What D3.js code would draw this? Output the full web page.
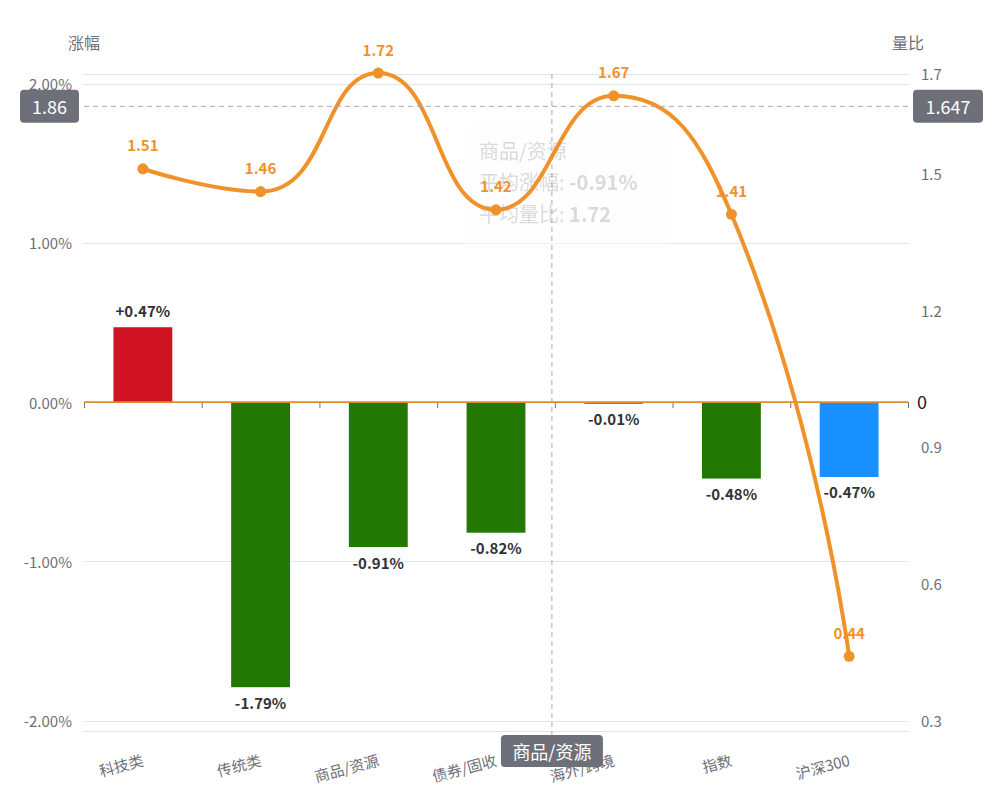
<!DOCTYPE html>
<html>
<head>
<meta charset="utf-8">
<script src="https://cdn.jsdelivr.net/npm/d3@7"></script>
<style>
  html, body { margin: 0; padding: 0; background: #fff; }
  svg { display: block; font-family: "Noto Sans CJK SC", "Noto Sans", sans-serif; }
</style>
</head>
<body>
<svg id="chart" width="1004" height="811"></svg>
<script>
// ---------- data ----------
const categories = ["科技类", "传统类", "商品/资源", "债券/固收", "海外/跨境", "指数", "沪深300"];
const changePct = [0.47, -1.79, -0.91, -0.82, -0.01, -0.48, -0.47];      // 涨幅 (%)
const volumeRatio = [1.51, 1.46, 1.72, 1.42, 1.67, 1.41, 0.44];          // 量比
const leftTicks = [-2, -1, 0, 1, 2];
const rightTicks = [0.3, 0.6, 0.9, 1.2, 1.5, 1.72];
const benchmark = "沪深300";
const leftDomain = [-2.065, 2.06];
const rightDomain = [0.276, 1.718];
// axis pointer / tooltip state
const pointerCategory = "商品/资源";
const pointerBandPos = 3.975;        // position along category axis, in band units
const pointerRight = 1.647;
const pointerLeftLabel = "1.86";
const pointerRightLabel = "1.647";
const tipAvgChange = -0.91;
const tipAvgRatio = 1.72;

// ---------- layout ----------
const W = 1004, H = 811;
const L = 84, R = 908, T = 74, B = 731;
const svg = d3.select("#chart");
const loc = d3.formatLocale({ decimal: ".", thousands: ",", grouping: [3], currency: ["", ""], minus: "-" });
const f2 = loc.format(".2f"), f1 = loc.format(".1f");

const x = d3.scaleBand().domain(categories).range([L, R]).paddingInner(0).paddingOuter(0);
const yL = d3.scaleLinear().domain(leftDomain).range([B, T]);
const yR = d3.scaleLinear().domain(rightDomain).range([B, T]);

const gridColor = "#e0e6f1";
const axisText = "#6e7079";
const orange = "#f0922a";
const colors = { pos: "#cf1322", neg: "#237804", bench: "#1890ff" };

// ---------- grid ----------
const gridVals = leftTicks.filter(v => v !== 0).concat(leftDomain);
svg.append("g").selectAll("line").data(gridVals).join("line")
  .attr("x1", L).attr("x2", R)
  .attr("y1", d => Math.round(yL(d)) + 0.5).attr("y2", d => Math.round(yL(d)) + 0.5)
  .attr("stroke", gridColor).attr("stroke-width", 1.2);

// left axis labels
svg.append("g").selectAll("text").data(leftTicks).join("text")
  .attr("x", L - 12).attr("y", d => yL(d))
  .attr("text-anchor", "end").attr("dominant-baseline", "central")
  .attr("fill", axisText).style("font-size", "15px")
  .text(d => f2(d) + "%");

// right axis labels
svg.append("g").selectAll("text").data(rightTicks).join("text")
  .attr("x", R + 13).attr("y", d => yR(d))
  .attr("text-anchor", "start").attr("dominant-baseline", "central")
  .attr("fill", axisText).style("font-size", "15px")
  .text(d => f1(d));

// axis names
svg.append("text").attr("x", L).attr("y", 42).attr("text-anchor", "middle")
  .attr("dominant-baseline", "central").attr("fill", axisText).style("font-size", "16px").text("涨幅");
svg.append("text").attr("x", R).attr("y", 42).attr("text-anchor", "middle")
  .attr("dominant-baseline", "central").attr("fill", axisText).style("font-size", "16px").text("量比");

// ---------- tooltip (faded, behind series) ----------
const tipG = svg.append("g").attr("opacity", 0.9);
const defs = svg.append("defs");
const flt = defs.append("filter").attr("id", "shadow").attr("x", "-20%").attr("y", "-20%").attr("width", "140%").attr("height", "140%");
flt.append("feDropShadow").attr("dx", 1).attr("dy", 2).attr("stdDeviation", 4).attr("flood-color", "#000").attr("flood-opacity", 0.05);
const tipX = x(categories[3]) + 0.22 * x.bandwidth();
tipG.append("rect").attr("x", tipX).attr("y", 119).attr("width", 208).attr("height", 126)
  .attr("rx", 4).attr("fill", "#fff").attr("fill-opacity", 0.5).attr("filter", "url(#shadow)");
const tipText = tipG.append("g").attr("fill", "#d6d6d6").style("font-size", "20px");
tipText.append("text").attr("x", tipX + 16).attr("y", 150).attr("dominant-baseline", "central").text(pointerCategory);
const t2 = tipText.append("text").attr("x", tipX + 16).attr("y", 181).attr("dominant-baseline", "central");
t2.append("tspan").text("平均涨幅: ");
t2.append("tspan").style("font-weight", "bold").text(f2(tipAvgChange) + "%");
const t3 = tipText.append("text").attr("x", tipX + 16).attr("y", 213).attr("dominant-baseline", "central");
t3.append("tspan").text("平均量比: ");
t3.append("tspan").style("font-weight", "bold").text(f2(tipAvgRatio));

// ---------- crosshair vertical ----------
const px = L + pointerBandPos * x.step();
const py = yR(pointerRight);
svg.append("line").attr("x1", px).attr("x2", px).attr("y1", T).attr("y2", B + 4)
  .attr("stroke", "#a9abb3").attr("stroke-width", 1).attr("stroke-dasharray", "5,4");

// ---------- bars ----------
const bw = x.bandwidth() * 0.5;
const barColor = (c, v) => c === benchmark ? colors.bench : (v >= 0 ? colors.pos : colors.neg);
svg.append("g").selectAll("rect").data(categories).join("rect")
  .attr("x", d => x(d) + (x.bandwidth() - bw) / 2)
  .attr("width", bw)
  .attr("y", (d, i) => Math.min(yL(0), yL(changePct[i])))
  .attr("height", (d, i) => Math.max(1, Math.abs(yL(changePct[i]) - yL(0))))
  .attr("fill", (d, i) => barColor(d, changePct[i]));

// zero line + ticks
svg.append("g").selectAll("line").data(d3.range(categories.length + 1)).join("line")
  .attr("x1", i => L + i * x.step() + 0.5).attr("x2", i => L + i * x.step() + 0.5)
  .attr("y1", yL(0)).attr("y2", yL(0) + 6)
  .attr("stroke", axisText).attr("stroke-width", 1);
svg.append("line").attr("x1", L).attr("x2", R).attr("y1", yL(0)).attr("y2", yL(0))
  .attr("stroke", "#e08a30").attr("stroke-width", 1.6);
svg.append("text").attr("x", R + 9).attr("y", yL(0) - 1).attr("dominant-baseline", "central")
  .attr("fill", "#222").style("font-size", "18px").text("0");

// bar labels
svg.append("g").selectAll("text").data(categories).join("text")
  .attr("x", d => x(d) + x.bandwidth() / 2)
  .attr("y", (d, i) => changePct[i] >= 0 ? yL(changePct[i]) - 17 : yL(changePct[i]) + 15)
  .attr("text-anchor", "middle").attr("dominant-baseline", "central")
  .attr("fill", "#333").style("font-size", "15px").style("font-weight", "bold")
  .text((d, i) => (changePct[i] > 0 ? "+" : "") + f2(changePct[i]) + "%");

// ---------- smooth line (ECharts-style bezier) ----------
function smoothPath(pts, smooth) {
  let d = "M" + pts[0][0] + "," + pts[0][1];
  let cp0 = pts[0].slice();
  const clamp = (v, a, b) => Math.max(Math.min(v, Math.max(a, b)), Math.min(a, b));
  for (let i = 1; i < pts.length; i++) {
    const [cx, cy] = pts[i], [pxx, pyy] = pts[i - 1];
    let cp1, next = null;
    if (i === pts.length - 1) { cp1 = [cx, cy]; }
    else {
      const [nx, ny] = pts[i + 1];
      let vx = nx - pxx, vy = ny - pyy;
      const lp = Math.hypot(cx - pxx, cy - pyy), ln = Math.hypot(nx - cx, ny - cy);
      const r = ln / (ln + lp);
      let ncx = clamp(cx + vx * smooth * r, nx, cx);
      let ncy = clamp(cy + vy * smooth * r, ny, cy);
      vx = ncx - cx; vy = ncy - cy;
      let c1x = clamp(cx - vx * lp / ln, pxx, cx);
      let c1y = clamp(cy - vy * lp / ln, pyy, cy);
      vx = cx - c1x; vy = cy - c1y;
      ncx = cx + vx * ln / lp; ncy = cy + vy * ln / lp;
      cp1 = [c1x, c1y]; next = [ncx, ncy];
    }
    d += "C" + cp0[0] + "," + cp0[1] + "," + cp1[0] + "," + cp1[1] + "," + cx + "," + cy;
    cp0 = next;
  }
  return d;
}
const linePts = categories.map((c, i) => [x(c) + x.bandwidth() / 2, yR(volumeRatio[i])]);
svg.append("path").attr("d", smoothPath(linePts, 0.5))
  .attr("fill", "none").attr("stroke", orange).attr("stroke-width", 4).attr("stroke-linejoin", "round").attr("stroke-linecap", "round");
svg.append("g").selectAll("circle").data(categories).join("circle")
  .attr("cx", d => x(d) + x.bandwidth() / 2).attr("cy", (d, i) => yR(volumeRatio[i]))
  .attr("r", 5.5).attr("fill", orange);
svg.append("g").selectAll("text").data(categories).join("text")
  .attr("x", d => x(d) + x.bandwidth() / 2).attr("y", (d, i) => yR(volumeRatio[i]) - 24)
  .attr("text-anchor", "middle").attr("dominant-baseline", "central")
  .attr("fill", orange).style("font-size", "15px").style("font-weight", "bold")
  .text((d, i) => f2(volumeRatio[i]));

// ---------- x axis labels ----------
svg.append("g").selectAll("text").data(categories).join("text")
  .attr("transform", d => `translate(${x(d) + x.bandwidth() / 2},${B + 28}) rotate(-15)`)
  .attr("text-anchor", "end").attr("dominant-baseline", "central")
  .attr("fill", axisText).style("font-size", "15px")
  .text(d => d);

// ---------- crosshair horizontal + labels ----------
svg.append("line").attr("x1", L).attr("x2", R).attr("y1", py).attr("y2", py)
  .attr("stroke", "#a9abb3").attr("stroke-width", 1).attr("stroke-dasharray", "5,4");
function pointerLabel(cx, cy, w, h, txt) {
  svg.append("rect").attr("x", cx - w / 2).attr("y", cy - h / 2).attr("width", w).attr("height", h)
    .attr("rx", 4).attr("fill", "#6e7079");
  svg.append("text").attr("x", cx).attr("y", cy).attr("text-anchor", "middle").attr("dominant-baseline", "central")
    .attr("fill", "#fff").style("font-size", "18px").text(txt);
}
pointerLabel(L - 34.5, py, 59, 33, pointerLeftLabel);
pointerLabel(R + 40, py, 70, 33, pointerRightLabel);
pointerLabel(px, B + 20, 102, 32, pointerCategory);
</script>
</body>
</html>
